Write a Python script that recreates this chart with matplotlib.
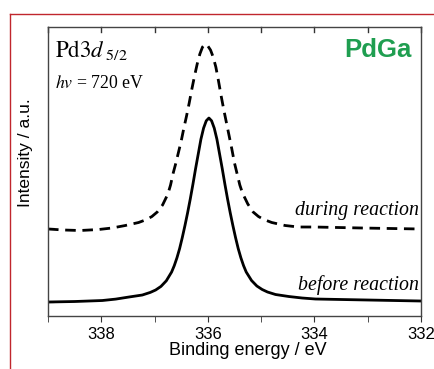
import matplotlib
matplotlib.use('Agg')
import matplotlib.pyplot as plt
from matplotlib.lines import Line2D

plt.rcParams['font.family'] = ['Liberation Sans', 'DejaVu Sans']
plt.rcParams['mathtext.fontset'] = 'stix'

# binding energy (eV) / intensity (a.u.)
before_energy = [339.0, 338.5, 337.98, 337.73, 337.48, 337.23, 337.08, 336.98, 336.88,
                 336.78, 336.68, 336.63, 336.58, 336.53, 336.48, 336.43, 336.38, 336.33,
                 336.28, 336.23, 336.18, 336.13, 336.08, 336.03, 335.98, 335.93, 335.88,
                 335.83, 335.78, 335.73, 335.68, 335.63, 335.58, 335.53, 335.48, 335.43,
                 335.38, 335.33, 335.28, 335.18, 335.08, 334.98, 334.88, 334.73, 334.48,
                 334.23, 333.98, 333.0, 332.0]
before_intensity = [14, 14.5, 15.5, 16.9, 19.0, 21.0, 23.6, 26.0, 29.6,
                    35.2, 44.0, 50.4, 58.2, 67.4, 78.4, 90.4, 103.2, 117.0,
                    131.8, 147.4, 162.1, 176.8, 187.9, 195.2, 198, 195.2, 187.9,
                    176.8, 162.1, 147.4, 131.8, 117.0, 103.2, 90.4, 78.4, 67.4,
                    58.2, 50.4, 44.0, 35.5, 30.0, 26.5, 24.0, 21.5, 19.5,
                    18.0, 17.0, 16.0, 15.0]

during_energy = [339.0, 338.7, 338.4, 338.05, 337.8, 337.55, 337.3, 337.15, 337.05,
                 336.95, 336.85, 336.75, 336.70, 336.65, 336.60, 336.55, 336.50, 336.45,
                 336.40, 336.35, 336.30, 336.25, 336.20, 336.15, 336.10, 336.05, 336.0,
                 335.95, 335.90, 335.85, 335.80, 335.75, 335.70, 335.65, 335.60, 335.55,
                 335.50, 335.45, 335.40, 335.35, 335.25, 335.15, 335.05, 334.95, 334.80,
                 334.55, 334.30, 334.0, 333.1, 332.0]
during_intensity = [87, 86, 85.5, 86.5, 88, 90.5, 93.5, 96.5, 99.5,
                    104, 111, 122, 131, 143, 153, 164, 175, 188,
                    200, 213, 227, 240, 252, 262, 269, 272, 270,
                    266, 259, 249, 235, 220, 206, 193, 180, 167,
                    153, 142, 131, 123, 112, 104, 99.5, 96.5, 93.5,
                    90.5, 89, 89, 88, 87]

x_major = [338, 336, 334, 332]
x_minor = [339, 337, 335, 333]
y_ticks = [14, 88]

fig = plt.figure(figsize=(4.34, 3.69), dpi=100)
ax = fig.add_axes([0.1106, 0.1436, 0.8594, 0.7832])

ax.plot(before_energy, before_intensity, color='black', lw=2.0)
ax.plot(during_energy, during_intensity, color='black', lw=2.0, dashes=(3.8, 2.4))

ax.set_xlim(339, 332)
ax.set_ylim(0, 289)
ax.set_xticks(x_major)
ax.set_xticks(x_minor, minor=True)
ax.set_yticks(y_ticks)
ax.set_yticklabels([])
ax.tick_params(axis='x', which='both', direction='out', top=False, labelsize=12,
               color='#333333', pad=4, length=4)
ax.tick_params(axis='y', direction='in', length=4, color='#333333')
for s in ax.spines.values():
    s.set_color('#444444')
    s.set_linewidth(1.0)

# inward ticks along the top spine
for e in x_major + x_minor:
    ax.plot([e, e], [289, 284], color='#333333', lw=1.0, clip_on=False)

ax.set_xlabel('Binding energy / eV', fontsize=13, labelpad=3)
ax.xaxis.set_label_coords(0.535, -0.09)
ax.set_ylabel('Intensity / a.u.', fontsize=12.5)
ax.yaxis.set_label_coords(-0.040, 0.564)

ax.text(0.018, 0.895, r'$\mathrm{Pd3}d_{\ 5/2}$', transform=ax.transAxes, fontsize=16.5)
ax.text(0.018, 0.79, r'$hv$ = 720 eV', transform=ax.transAxes, fontsize=12.8,
        family='Liberation Serif')
ax.text(0.975, 0.895, 'PdGa', transform=ax.transAxes, fontsize=18.5, fontweight='bold',
        color='#1f9e50', ha='right')
ax.text(0.995, 101 / 289, 'during reaction', transform=ax.transAxes, fontsize=14.3,
        family='Liberation Serif', style='italic', ha='right')
ax.text(0.995, 26 / 289, 'before reaction', transform=ax.transAxes, fontsize=14.3,
        family='Liberation Serif', style='italic', ha='right')

# red page frame
red = '#c0262d'
fig.add_artist(Line2D([10 / 434, 1.0], [1 - 14 / 369, 1 - 14 / 369], color=red, lw=1.0))
fig.add_artist(Line2D([10 / 434, 10 / 434], [0, 1 - 14 / 369], color=red, lw=1.0))

fig.savefig('out.png', dpi=100)
